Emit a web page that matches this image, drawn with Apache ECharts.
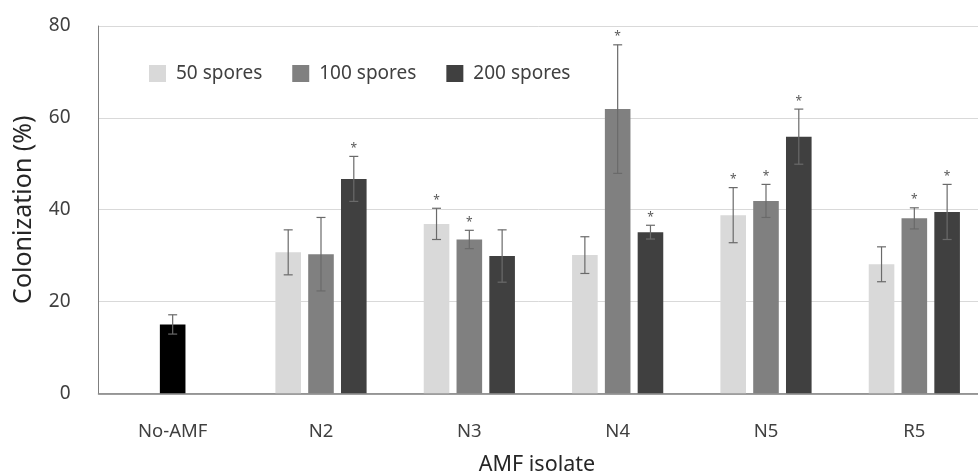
<!DOCTYPE html>
<html>
<head>
<meta charset="utf-8">
<script src="https://cdn.jsdelivr.net/npm/echarts@6/dist/echarts.min.js"></script>
<style>html,body{margin:0;padding:0;background:#fff;}#c{width:978px;height:474px;}</style>
</head>
<body>
<div id="c"></div>
<script>
const categories = ['No-AMF', 'N2', 'N3', 'N4', 'N5', 'R5'];
const seriesNames = ['50 spores', '100 spores', '200 spores'];
const s50  = [null, 30.7, 36.9, 30.1, 38.8, 28.1];
const s100 = [15.0, 30.3, 33.5, 61.9, 41.9, 38.1];
const s200 = [null, 46.7, 29.9, 35.1, 55.9, 39.5];
const e50  = [null, 4.9, 3.4, 4.0, 6.0, 3.8];
const e100 = [2.1, 8.0, 2.0, 14.0, 3.6, 2.3];
const e200 = [null, 4.9, 5.7, 1.5, 6.0, 6.0];
const sig50  = [0, 0, 1, 0, 1, 0];
const sig100 = [0, 0, 1, 1, 1, 1];
const sig200 = [0, 1, 0, 1, 1, 1];
const yTicks = [0, 20, 40, 60, 80];

const colors = ['#d9d9d9', '#808080', '#404040'];
const controlColor = '#000000';
const FONT = '"Noto Sans", "Open Sans", sans-serif';
const BAR_W = 25.6, GAP = 7.2;

const vals = [s50, s100, s200], errs = [e50, e100, e200], sigs = [sig50, sig100, sig200];

function errData(k) {
  const out = [];
  vals[k].forEach((v, i) => {
    if (v == null || errs[k][i] == null) return;
    out.push([i, v - errs[k][i], v + errs[k][i], sigs[k][i]]);
  });
  return out;
}

function makeRender(k) {
  const off = (k - 1) * (BAR_W + GAP);
  return function (params, api) {
    const x = api.coord([api.value(0), 0])[0] + off;
    const yLo = api.coord([api.value(0), api.value(1)])[1];
    const yHi = api.coord([api.value(0), api.value(2)])[1];
    const cap = 4.5;
    const st = { stroke: '#6a6a6a', lineWidth: 1.2 };
    const children = [
      { type: 'line', shape: { x1: x, y1: yLo, x2: x, y2: yHi }, style: st },
      { type: 'line', shape: { x1: x - cap, y1: yHi, x2: x + cap, y2: yHi }, style: st },
      { type: 'line', shape: { x1: x - cap, y1: yLo, x2: x + cap, y2: yLo }, style: st }
    ];
    if (api.value(3)) {
      children.push({ type: 'text', style: { text: '*', x: x, y: yHi - 8, align: 'center', verticalAlign: 'middle', fontSize: 12, fill: '#595959', fontFamily: FONT } });
    }
    return { type: 'group', children: children };
  };
}

const series = [];
seriesNames.forEach((name, k) => {
  series.push({
    name: name,
    type: 'bar',
    barWidth: BAR_W,
    barGap: (GAP / BAR_W * 100).toFixed(1) + '%',
    itemStyle: { color: colors[k] },
    data: vals[k].map((v, i) => (v == null ? '-' : (k === 1 && i === 0 ? { value: v, itemStyle: { color: controlColor } } : v))),
    z: 2
  });
});
seriesNames.forEach((name, k) => {
  series.push({
    name: name + ' err',
    type: 'custom',
    renderItem: makeRender(k),
    data: errData(k),
    encode: { x: 0, y: [1, 2] },
    z: 5,
    silent: true
  });
});

const chart = echarts.init(document.getElementById('c'), null, { renderer: 'canvas' });
chart.setOption({
  animation: false,
  backgroundColor: '#ffffff',
  textStyle: { fontFamily: FONT },
  legend: {
    data: seriesNames,
    left: 144, top: 59,
    itemWidth: 17, itemHeight: 17, itemGap: 30,
    icon: 'rect',
    textStyle: { fontSize: 19, color: '#404040', fontFamily: FONT, padding: [0, 0, 0, 5] }
  },
  grid: { left: 98.5, top: 26, width: 890, height: 367.3, containLabel: false, outerBoundsMode: 'none' },
  xAxis: {
    type: 'category',
    data: categories,
    axisTick: { show: false },
    axisLine: { lineStyle: { color: '#7f7f7f', width: 1.5 } },
    axisLabel: { fontSize: 18.5, color: '#404040', margin: 29, fontFamily: FONT },
    name: 'AMF isolate',
    nameLocation: 'middle',
    nameGap: 61,
    nameTextStyle: { fontSize: 21.5, color: '#262626', fontFamily: FONT, padding: [0, 13, 0, 0] }
  },
  yAxis: {
    type: 'value',
    min: yTicks[0], max: yTicks[yTicks.length - 1], interval: 20,
    axisLine: { show: true, lineStyle: { color: '#7f7f7f', width: 1 } },
    axisTick: { show: false },
    splitLine: { lineStyle: { color: '#d9d9d9', width: 1 } },
    axisLabel: { fontSize: 19, color: '#404040', margin: 28, fontFamily: FONT },
    name: 'Colonization (%)',
    nameLocation: 'middle',
    nameGap: 62,
    nameTextStyle: { fontSize: 25, color: '#262626', fontFamily: FONT }
  },
  series: series
});
</script>
</body>
</html>
